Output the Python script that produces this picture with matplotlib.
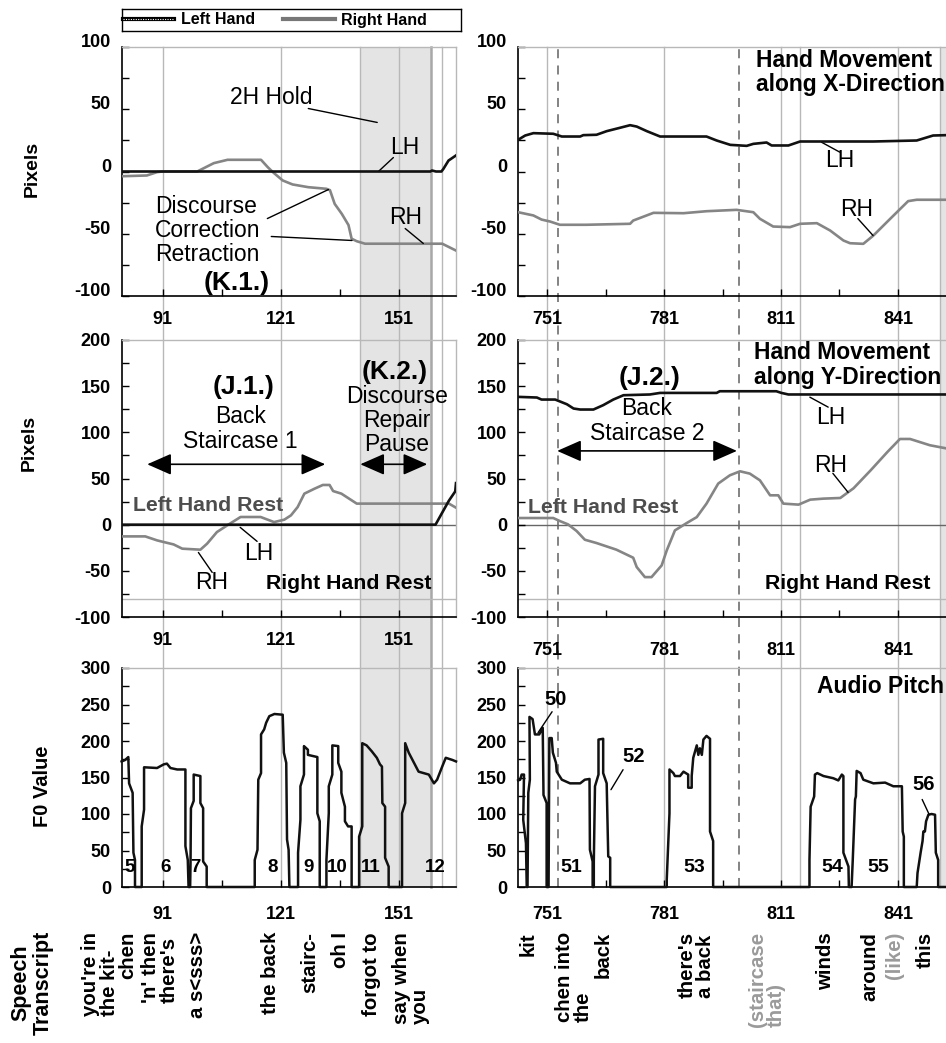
import matplotlib
matplotlib.use('Agg')
import matplotlib.pyplot as plt
import matplotlib.transforms as mtransforms
from matplotlib.lines import Line2D
from matplotlib.patches import Rectangle
from matplotlib.ticker import MultipleLocator, FixedLocator

plt.rcParams['font.family'] = ['Liberation Sans', 'DejaVu Sans']
plt.rcParams['axes.unicode_minus'] = False

# ---------------- DATA ----------------
# Hand movement along X direction (pixels)
xdir_left_lh_f = [80.7, 159.0, 159.4, 160.4, 161.8, 162.3, 163.6, 165.5]
xdir_left_lh_v = [0, 0, 0.8, 0, 0, 2.1, 8.8, 12.9]
xdir_left_rh_f = [80.7, 87.0, 89.6, 91.0, 99.8, 104.0, 107.5, 116.0, 117.7, 119.0, 121.5, 124.0,
                  128.0, 132.6, 133.5, 134.7, 136.5, 138.2, 139.0, 140.3, 142.4, 162.0, 165.5]
xdir_left_rh_v = [-3.8, -3.2, -0.5, 0, 0, 6.7, 9.4, 9.4, 3.5, -0.5, -7.2, -10.4,
                  -12.6, -13.9, -15, -26, -34, -43, -54, -56, -58, -58, -63.5]
xdir_right_lh_f = [743.6, 745.4, 747.5, 752.6, 754.8, 759.5, 760.3, 763.7, 766.3, 769.7, 772.3, 774.0,
                   776.6, 780.0, 791.9, 794.5, 798.0, 802.2, 803.9, 807.3, 808.6, 812.9, 815.9, 834.7,
                   845.8, 850.0, 856.9]
xdir_right_lh_v = [25.5, 28.9, 30.8, 30.3, 28.1, 28.1, 29.2, 29.5, 32.4, 35.1, 37.2, 36.1,
                   32.4, 28.1, 28.1, 24.9, 21.4, 20.6, 22.2, 23.3, 20.9, 20.9, 24.1, 24.1,
                   24.9, 28.9, 29.5]
xdir_right_rh_f = [743.6, 747.5, 749.6, 751.8, 754.3, 761.0, 772.3, 773.1, 778.3, 786.0, 791.9, 799.6,
                   803.9, 805.6, 809.0, 813.3, 815.9, 820.2, 823.6, 827.0, 828.7, 832.1, 834.7, 839.0,
                   843.6, 845.8, 856.9]
xdir_right_rh_v = [-32.7, -35.3, -38.6, -40.2, -42.8, -42.8, -42.0, -39.4, -33.2, -33.5, -31.9, -30.8,
                   -32.7, -38.0, -44.2, -44.7, -42.0, -41.5, -47.4, -55.4, -57.6, -58.1, -51.4, -38.0,
                   -23.8, -22.7, -22.7]

# Hand movement along Y direction (pixels)
ydir_left_lh_f = [80.7, 160.3, 163.7, 165.3, 165.5]
ydir_left_lh_v = [0, 0, 26, 36, 45]
ydir_left_rh_f = [80.7, 86.6, 89.6, 91.0, 93.8, 96.0, 100.6, 102.3, 104.8, 107.8, 110.8, 115.9,
                  119.3, 121.9, 123.6, 125.3, 127.0, 129.6, 131.7, 133.4, 134.3, 136.4, 140.3, 163.7, 165.5]
ydir_left_rh_v = [-12.7, -12.7, -17.0, -18.5, -21.4, -26.0, -27.1, -20.6, -8.0, 0.3, 8.3, 8.3,
                  2.8, 5.4, 10.1, 19.1, 33.6, 39.0, 43.0, 43.0, 36.4, 33.6, 22.8, 22.8, 18.4]
ydir_right_lh_f = [743.6, 748.4, 749.6, 753.1, 756.1, 757.8, 759.5, 762.9, 765.4, 768.0, 770.6, 777.4,
                   780.0, 794.5, 795.3, 809.8, 811.1, 812.9, 856.9]
ydir_right_lh_v = [138.4, 137.7, 135.5, 135.5, 130.4, 125.8, 124.7, 124.7, 129.4, 135.5, 140.2, 141.0,
                   142.7, 142.7, 144.5, 144.5, 142.7, 141.0, 141.0]
ydir_right_rh_f = [743.6, 752.6, 754.3, 756.4, 758.6, 760.7, 763.7, 768.8, 773.1, 774.0, 776.1, 777.8,
                   780.4, 781.7, 783.8, 786.8, 789.4, 791.9, 794.9, 797.9, 800.5, 803.0, 805.6, 808.2,
                   810.3, 811.6, 815.5, 818.5, 821.9, 826.2, 829.6, 834.0, 838.3, 841.5, 844.1, 849.2,
                   853.3, 856.9]
ydir_right_rh_v = [7.2, 7.2, 3.9, 0.3, -6.9, -16.3, -19.9, -27.1, -35.8, -45.9, -56.8, -56.8,
                   -44.1, -27.9, -6.2, 1.7, 8.2, 22.8, 44.5, 53.5, 57.8, 55.3, 48.0, 31.8,
                   31.8, 22.8, 21.7, 27.1, 28.2, 28.9, 39.4, 58.9, 78.8, 92.8, 92.8, 86.0,
                   82.7, 81.5]

# Audio pitch F0
f0_left_f = [80.6, 81.5, 82.3, 82.5, 83.4, 83.6, 84.0, 84.0, 85.7, 85.7, 86.3, 86.3, 89.6, 91.3, 92.1,
             93.0, 94.7, 96.8, 96.8, 97.4, 97.6,
             98.0, 98.1, 98.2, 98.9, 98.9, 100.6, 100.6, 101.3, 101.3, 102.2, 102.2,
             114.4, 114.4, 115.1, 115.3, 116.0, 116.0, 116.8, 117.3, 118.1, 119.4, 121.5, 121.8, 122.4,
             122.6, 123.0, 123.2,
             125.4, 125.4, 126.0, 126.0, 126.9, 126.9, 127.9, 127.9, 130.3, 130.3, 130.9, 130.9,
             132.6, 132.6, 133.2, 133.2, 134.1, 134.1, 135.6, 135.6, 136.4, 136.4, 137.3, 137.3, 138.1,
             139.0, 139.0,
             140.9, 140.9, 141.7, 141.7, 142.8, 144.1, 145.4, 146.2, 146.7, 146.8, 147.5, 147.5, 148.4,
             148.4,
             151.8, 151.8, 152.6, 152.6, 153.5, 156.0, 158.6, 159.9, 160.7, 162.0, 162.9, 164.6, 165.5]
f0_left_v = [172, 174, 178, 142, 129, 47, 37, 0, 0, 83, 106, 164, 163, 168, 169,
             163, 161, 161, 56, 37, 0,
             0, 33, 108, 118, 154, 152, 115, 108, 35, 28, 0,
             0, 37, 51, 147, 156, 209, 216, 225, 234, 237, 236, 184, 170,
             65, 51, 0,
             0, 47, 92, 138, 154, 193, 188, 181, 178, 101, 90, 0,
             0, 37, 101, 138, 154, 194, 193, 170, 158, 129, 110, 90, 83,
             83, 0,
             0, 69, 83, 197, 194, 186, 177, 168, 165, 115, 110, 40, 28,
             0,
             0, 101, 115, 197, 184, 158, 154, 142, 147, 165, 177, 174, 172]

f0_right_f = [743.6, 744.1, 744.5, 745.1, 744.9, 745.6, 745.8, 746.0, 746.2, 746.6, 746.5, 747.3, 747.9,
              749.0, 749.9, 750.1, 750.9, 750.9, 751.4, 751.6, 752.2, 752.5, 753.3, 753.5, 754.8, 756.9,
              759.5, 760.7, 761.9, 762.0, 762.7, 762.7,
              763.0, 763.0, 763.3, 764.2, 764.2, 765.4, 765.4, 766.3, 766.7, 767.2, 767.2,
              781.7, 781.7, 782.4, 782.4, 783.4, 783.8, 785.1, 786.0, 787.2, 787.2, 788.1, 788.1, 788.5,
              789.4, 789.8, 790.2, 790.7, 791.1, 791.9, 792.8, 792.8, 793.6, 793.6,
              818.3, 818.3, 818.6, 819.5, 819.7, 820.3, 821.9, 824.4, 825.7, 826.6, 827.0, 827.0, 828.3,
              828.4, 829.1,
              829.4, 830.0, 830.2, 830.4, 831.4, 832.1, 834.7, 837.7, 839.8, 842.0, 842.2, 842.5, 842.5,
              845.8, 846.0, 846.8, 847.3, 847.5, 847.9, 848.2, 848.8, 849.6, 850.5, 850.7, 851.3, 851.3,
              856.9]
f0_right_v = [146, 147, 154, 154, 92, 60, 0, 0, 129, 147, 233, 230, 209,
              209, 218, 126, 115, 0, 0, 204, 204, 184, 170, 158, 147, 142,
              142, 147, 148, 51, 35, 0,
              0, 35, 138, 154, 202, 203, 156, 142, 42, 40, 0,
              0, 10, 101, 161, 156, 152, 152, 158, 154, 136, 136, 152, 177,
              194, 181, 190, 181, 202, 207, 203, 76, 63, 0,
              0, 37, 110, 124, 154, 156, 152, 149, 146, 154, 152, 47, 28,
              0, 0,
              37, 120, 124, 159, 156, 147, 142, 143, 138, 138, 76, 69, 0,
              0, 19, 47, 63, 76, 76, 90, 99, 100, 99, 47, 37, 0,
              0]

# axis ticks / reference frames
left_xlim = (80.7, 165.5)
right_xlim = (743.56, 856.9)
left_major = [91, 121, 151]
left_minor = [106, 136]
right_major = [751, 781, 811, 841]
right_minor = [766, 796, 826]
left_grid = [91, 121, 141.2, 151, 161.9]
left_grid_strong = [159.1]
right_grid = [751, 781, 811, 816, 841, 851.8]
left_shade = (141.2, 159.1)
right_shade = (851.8, 870)
right_dashed = [753.7, 800.3]

# segment labels in F0 panels
seg_left_labels = ['5', '6', '7', '8', '9', '10', '11', '12']
seg_left_pos = [82.6, 91.7, 99.3, 118.9, 128.0, 135.4, 143.8, 160.3]
seg_right_labels = ['51', '53', '54', '55']
seg_right_pos = [757.2, 788.7, 824.1, 835.9]

# speech transcript
trans_left = ["you're in\nthe kit-", "chen", "'n' then\nthere's", "a s<sss>", "the back",
              "stairc-", "oh I", "forgot to", "say when\nyou"]
trans_left_pos = [75.2, 82.2, 90.4, 99.8, 118.3, 128.5, 136.1, 144.1, 154.1]
trans_right = ["kit", "chen into\nthe", "back", "there's\na back", "(staircase\nthat)",
               "winds", "around", "(like)", "this"]
trans_right_pos = [746.2, 758.0, 765.4, 789.3, 807.3, 822.3, 833.8, 840.0, 847.9]
trans_right_gray = [False, False, False, False, True, False, False, True, False]

# ---------------- FIGURE ----------------
W, H = 946, 1043
DPI = 100
fig = plt.figure(figsize=(W / DPI, H / DPI), dpi=DPI)


def box(x0, y0, x1, y1):
    return [x0 / W, 1 - y1 / H, (x1 - x0) / W, (y1 - y0) / H]


axTL = fig.add_axes(box(122, 47, 456, 296))
axTR = fig.add_axes(box(518, 47, 960, 296))
axML = fig.add_axes(box(122, 340, 456, 617))
axMR = fig.add_axes(box(518, 340, 960, 617))
axBL = fig.add_axes(box(122, 668, 456, 887))
axBR = fig.add_axes(box(518, 668, 960, 887))

LH_C = '#111111'
RH_C = '#858585'
GRID_C = '#b8b8b8'
SHADE_C = '#e4e4e4'
TICKFS = 13


def style(ax, xlim, ylim, xmaj, xmin, xpad, baseline=False):
    ax.set_facecolor('none')
    ax.set_xlim(*xlim)
    ax.set_ylim(*ylim)
    ax.xaxis.set_major_locator(FixedLocator(xmaj))
    ax.xaxis.set_minor_locator(FixedLocator(xmin))
    ax.yaxis.set_major_locator(MultipleLocator(50))
    ax.yaxis.set_minor_locator(MultipleLocator(25))
    ax.tick_params(axis='both', which='both', direction='in', top=False, right=False,
                   width=1, length=5, color='black')
    ax.tick_params(axis='x', which='major', pad=xpad, labelsize=TICKFS)
    ax.tick_params(axis='y', which='major', pad=8.0, labelsize=TICKFS)
    for lab in ax.get_xticklabels() + ax.get_yticklabels():
        lab.set_fontweight('bold')
    if baseline:
        for lab in ax.get_yticklabels():
            lab.set_va('baseline')
    for s in ['left', 'bottom']:
        ax.spines[s].set_color('black')
        ax.spines[s].set_linewidth(1.2)
    for s in ['top', 'right']:
        ax.spines[s].set_color(GRID_C)
        ax.spines[s].set_linewidth(1.0)


style(axTL, left_xlim, (-100, 100), left_major, left_minor, 11.0, baseline=True)
style(axTR, right_xlim, (-100, 100), right_major, right_minor, 11.0, baseline=True)
style(axML, left_xlim, (-100, 200), left_major, left_minor, 11.0)
style(axMR, right_xlim, (-100, 200), right_major, right_minor, 18)
style(axBL, left_xlim, (0, 300), left_major, left_minor, 13.5)
style(axBR, right_xlim, (0, 300), right_major, right_minor, 13.5)

# figure-spanning shading / gridlines / dashed lines
y_top = 1 - 47 / H
y_bot = 1 - 887 / H
tL = mtransforms.blended_transform_factory(axBL.transData, fig.transFigure)
tR = mtransforms.blended_transform_factory(axBR.transData, fig.transFigure)
fig.add_artist(Rectangle((left_shade[0], y_bot), left_shade[1] - left_shade[0], y_top - y_bot,
                         transform=tL, facecolor=SHADE_C, edgecolor='none', zorder=-3))
fig.add_artist(Rectangle((right_shade[0], y_bot), right_shade[1] - right_shade[0], y_top - y_bot,
                         transform=tR, facecolor=SHADE_C, edgecolor='none', zorder=-3))
for gx in left_grid:
    fig.add_artist(Line2D([gx, gx], [y_bot, y_top], transform=tL, color=GRID_C, lw=1.0, zorder=-2))
for gx in left_grid_strong:
    fig.add_artist(Line2D([gx, gx], [y_bot, y_top], transform=tL, color='#a8a8a8', lw=1.8, zorder=-2))
for gx in right_grid:
    fig.add_artist(Line2D([gx, gx], [y_bot, y_top], transform=tR, color=GRID_C, lw=1.0, zorder=-2))
for gx in right_dashed:
    fig.add_artist(Line2D([gx, gx], [y_bot, y_top], transform=tR, color='#7a7a7a', lw=1.3,
                          ls=(0, (5, 4)), zorder=-1))

# middle panels reference lines
for ax in (axML, axMR):
    ax.axhline(0, color='#666666', lw=1.0, zorder=1)
    ax.axhline(-80, color=GRID_C, lw=1.0, zorder=1)

LW = 1.9
axTL.plot(xdir_left_rh_f, xdir_left_rh_v, color=RH_C, lw=LW, zorder=3)
axTL.plot(xdir_left_lh_f, xdir_left_lh_v, color=LH_C, lw=LW, zorder=4)
axTR.plot(xdir_right_rh_f, xdir_right_rh_v, color=RH_C, lw=LW, zorder=3)
axTR.plot(xdir_right_lh_f, xdir_right_lh_v, color=LH_C, lw=LW, zorder=4)
axML.plot(ydir_left_rh_f, ydir_left_rh_v, color=RH_C, lw=LW, zorder=3)
axML.plot(ydir_left_lh_f, ydir_left_lh_v, color=LH_C, lw=LW, zorder=4)
axMR.plot(ydir_right_rh_f, ydir_right_rh_v, color=RH_C, lw=LW, zorder=3)
axMR.plot(ydir_right_lh_f, ydir_right_lh_v, color=LH_C, lw=LW, zorder=4)
axBL.plot(f0_left_f, f0_left_v, color=LH_C, lw=1.8, zorder=3, clip_on=False)
axBR.plot(f0_right_f, f0_right_v, color=LH_C, lw=1.8, zorder=3, clip_on=False)

# ---------------- annotations ----------------
REG = 16.5
BIGB = 19
TITLEB = 16.5
RESTB = 15.3
LEAD = dict(arrowstyle='-', lw=1.0, color='black', shrinkA=0, shrinkB=0)


def lead(ax, p0, p1):
    ax.annotate('', xy=p1, xytext=p0, arrowprops=LEAD)


def darrow(ax, x0, x1, y):
    ax.annotate('', xy=(x1, y), xytext=(x0, y),
                arrowprops=dict(arrowstyle='<|-|>,head_length=0.75,head_width=0.33',
                                mutation_scale=20, lw=1.2, color='black', shrinkA=0, shrinkB=0))


# top-left
axTL.text(118.6, 59.4, '2H Hold', fontsize=REG, ha='center', va='center')
lead(axTL, (128.0, 50.6), (145.5, 39.4))
axTL.text(152.6, 19.3, 'LH', fontsize=REG, ha='center', va='center')
lead(axTL, (149.6, 11.2), (145.8, 0))
axTL.text(89.1, -47.4, 'Discourse\nCorrection\nRetraction', fontsize=REG, ha='left', va='center',
          linespacing=1.06)
lead(axTL, (117.6, -37.8), (133.1, -14.5))
lead(axTL, (118.6, -52.2), (139.1, -55.4))
axTL.text(109.8, -89.2, '(K.1.)', fontsize=BIGB, fontweight='bold', ha='center', va='center')
axTL.text(152.6, -37.0, 'RH', fontsize=REG, ha='center', va='center')
lead(axTL, (152.6, -45.8), (157.2, -57.8))

# top-right
axTR.text(804.6, 79.5, 'Hand Movement\nalong X-Direction', fontsize=TITLEB, fontweight='bold',
          ha='left', va='center', linespacing=1.1)
axTR.text(826.1, 8.8, 'LH', fontsize=REG, ha='center', va='center')
lead(axTR, (821.4, 23.5), (826.1, 15.5))
axTR.text(830.4, -30.5, 'RH', fontsize=REG, ha='center', va='center')
lead(axTR, (830.7, -37.8), (834.6, -51.4))

# middle-left
axML.text(111.5, 149.2, '(J.1.)', fontsize=BIGB, fontweight='bold', ha='center', va='center')
axML.text(110.7, 103.3, 'Back\nStaircase 1', fontsize=REG, ha='center', va='center', linespacing=1.1)
darrow(axML, 87.1, 132.3, 65.4)
axML.text(150.0, 165.1, '(K.2.)', fontsize=BIGB, fontweight='bold', ha='center', va='center')
axML.text(150.5, 113.1, 'Discourse\nRepair\nPause', fontsize=REG, ha='center', va='center',
          linespacing=1.06)
darrow(axML, 141.2, 158.2, 65.4)
axML.text(83.6, 20.9, 'Left Hand Rest', fontsize=RESTB, fontweight='bold', color='#4d4d4d',
          ha='left', va='center')
axML.text(159.4, -63.6, 'Right Hand Rest', fontsize=RESTB, fontweight='bold', ha='right', va='center')
axML.text(115.3, -31.1, 'LH', fontsize=REG, ha='center', va='center')
lead(axML, (110.7, -2.9), (115.0, -18.1))
axML.text(103.4, -62.6, 'RH', fontsize=REG, ha='center', va='center')
lead(axML, (100.1, -30.1), (103.6, -51.7))

# middle-right
axMR.text(804.1, 173.2, 'Hand Movement\nalong Y-Direction', fontsize=TITLEB, fontweight='bold',
          ha='left', va='center', linespacing=1.1)
axMR.text(777.4, 158.6, '(J.2.)', fontsize=BIGB, fontweight='bold', ha='center', va='center')
axMR.text(776.6, 112.0, 'Back\nStaircase 2', fontsize=REG, ha='center', va='center', linespacing=1.1)
darrow(axMR, 753.6, 799.7, 79.9)
axMR.text(746.1, 18.8, 'Left Hand Rest', fontsize=RESTB, fontweight='bold', color='#4d4d4d',
          ha='left', va='center')
axMR.text(806.9, -63.6, 'Right Hand Rest', fontsize=RESTB, fontweight='bold', ha='left', va='center')
axMR.text(823.8, 116.3, 'LH', fontsize=REG, ha='center', va='center')
lead(axMR, (818.4, 138.1), (823.1, 127.3))
axMR.text(823.8, 64.3, 'RH', fontsize=REG, ha='center', va='center')
lead(axMR, (824.3, 55.6), (828.2, 35.0))

# bottom panels
for lab, x in zip(seg_left_labels, seg_left_pos):
    axBL.text(x, 26.4, lab, fontsize=13.5, fontweight='bold', ha='center', va='center')
for lab, x in zip(seg_right_labels, seg_right_pos):
    axBR.text(x, 26.4, lab, fontsize=14, fontweight='bold', ha='center', va='center')
axBR.text(820.2, 274.4, 'Audio Pitch', fontsize=TITLEB, fontweight='bold', ha='left', va='center')
axBR.text(753.1, 256.6, '50', fontsize=14.5, fontweight='bold', ha='center', va='center')
lead(axBR, (752.3, 240.1), (748.7, 211.4))
axBR.text(773.1, 178.5, '52', fontsize=14.5, fontweight='bold', ha='center', va='center')
lead(axBR, (770.5, 160.7), (767.4, 133.3))
axBR.text(847.5, 140.4, '56', fontsize=14.5, fontweight='bold', ha='center', va='center')
lead(axBR, (847.2, 119.9), (849.0, 99.3))

# y labels
axTL.text(-0.2695, 0.51, 'Pixels', transform=axTL.transAxes, rotation=90, fontsize=14,
          fontweight='bold', ha='center', va='center')
axML.text(-0.278, 0.628, 'Pixels', transform=axML.transAxes, rotation=90, fontsize=14,
          fontweight='bold', ha='center', va='center')
axBL.text(-0.2395, 0.461, 'F0 Value', transform=axBL.transAxes, rotation=90, fontsize=14.5,
          fontweight='bold', ha='center', va='center')

# speech transcript
y_tr = 1 - 932 / H
fig.text(32 / W, 1 - 931 / H, 'Speech\nTranscript', rotation=90, ha='center', va='top',
         multialignment='center', fontsize=15.5, fontweight='bold', linespacing=1.1)
for txt, x in zip(trans_left, trans_left_pos):
    fig.text(x, y_tr, txt, transform=tL, rotation=90, ha='center', va='top', multialignment='left',
             fontsize=14.7, fontweight='bold', linespacing=0.98)
for txt, x, g in zip(trans_right, trans_right_pos, trans_right_gray):
    fig.text(x, y_tr, txt, transform=tR, rotation=90, ha='center', va='top', multialignment='left',
             fontsize=14.7, fontweight='bold', linespacing=0.98, color='#9a9a9a' if g else 'black')

# legend
axLeg = fig.add_axes(box(122, 9, 461, 31))
axLeg.set_xticks([])
axLeg.set_yticks([])
for s in axLeg.spines.values():
    s.set_color('black')
    s.set_linewidth(1.0)
lh_handle = (Line2D([], [], color='black', lw=3.0),
             Line2D([], [], color='white', lw=0.8, ls=(0, (1, 1.2))))
rh_handle = Line2D([], [], color='#777777', lw=3.0)
axLeg.legend([lh_handle, rh_handle], ['Left Hand', 'Right Hand'], loc='center left', ncol=2,
             frameon=False, handlelength=3.2, handletextpad=0.42, columnspacing=1.8,
             borderaxespad=0.0, borderpad=0.05, prop=dict(weight='bold', size=11.5))

fig.savefig('out.png', dpi=DPI)
